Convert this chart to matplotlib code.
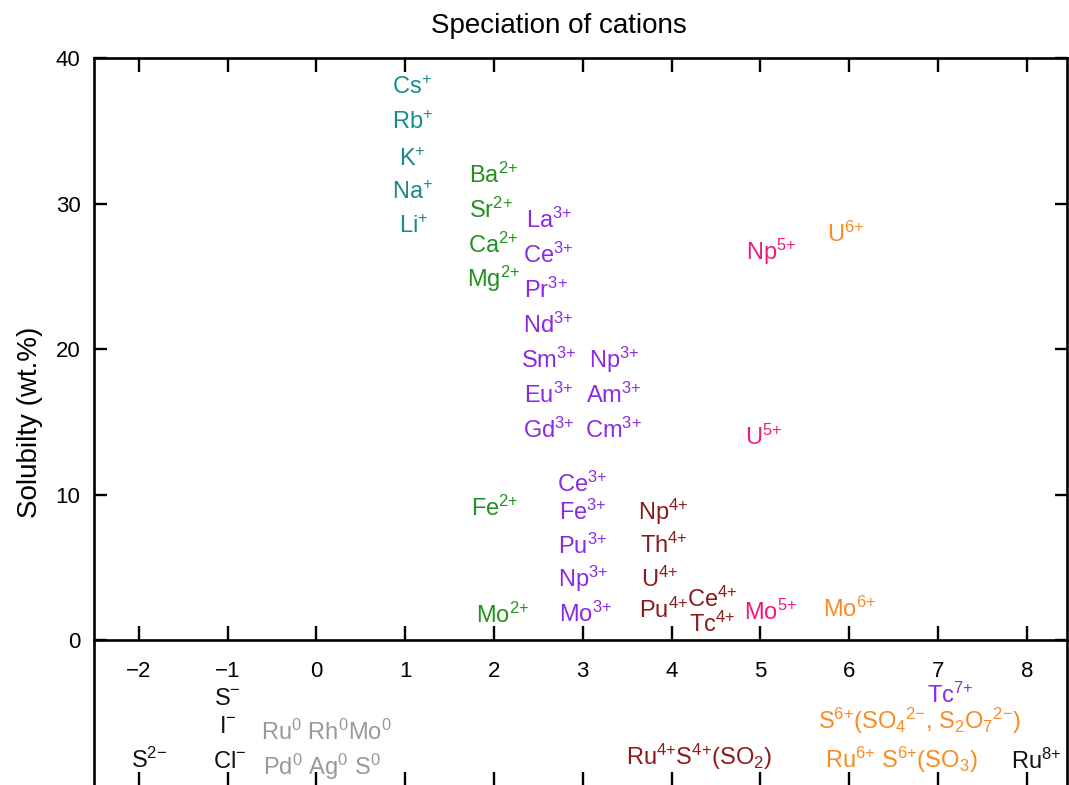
import matplotlib
matplotlib.use("Agg")
import matplotlib.pyplot as plt

plt.rcParams['font.family'] = ['Liberation Sans', 'DejaVu Sans']
plt.rcParams['mathtext.fontset'] = 'custom'
plt.rcParams['mathtext.rm'] = 'Liberation Sans'
plt.rcParams['mathtext.it'] = 'Liberation Sans:italic'
plt.rcParams['mathtext.bf'] = 'Liberation Sans:bold'
plt.rcParams['mathtext.sf'] = 'Liberation Sans'

# ---- data ----
labels = [
    # monovalent
    "Cs$^{+}$", "Rb$^{+}$", "K$^{+}$", "Na$^{+}$", "Li$^{+}$",
    # divalent
    "Ba$^{2{+}}$", "Sr$^{2{+}}$", "Ca$^{2{+}}$", "Mg$^{2{+}}$", "Fe$^{2{+}}$", "Mo$^{2{+}}$",
    # trivalent
    "La$^{3{+}}$", "Ce$^{3{+}}$", "Pr$^{3{+}}$", "Nd$^{3{+}}$", "Sm$^{3{+}}$", "Eu$^{3{+}}$",
    "Gd$^{3{+}}$", "Np$^{3{+}}$", "Am$^{3{+}}$", "Cm$^{3{+}}$",
    "Ce$^{3{+}}$", "Fe$^{3{+}}$", "Pu$^{3{+}}$", "Np$^{3{+}}$", "Mo$^{3{+}}$",
    # tetravalent
    "Np$^{4{+}}$", "Th$^{4{+}}$", "U$^{4{+}}$", "Pu$^{4{+}}$", "Ce$^{4{+}}$", "Tc$^{4{+}}$",
    "Ru$^{4{+}}$S$^{4{+}}$(SO$_{2}$)",
    # pentavalent
    "Np$^{5{+}}$", "U$^{5{+}}$", "Mo$^{5{+}}$",
    # hexavalent
    "U$^{6{+}}$", "Mo$^{6{+}}$",
    "S$^{6{+}}$(SO$_{4}{}^{2{-}}$, S$_{2}$O$_{7}{}^{2{-}}$)",
    "Ru$^{6{+}}$ S$^{6{+}}$(SO$_{3}$)",
    # heptavalent / octavalent
    "Tc$^{7{+}}$", "Ru$^{8{+}}$",
    # anions
    "S$^{-}$", "I$^{-}$", "Cl$^{-}$", "S$^{2{-}}$",
    # metals
    "Ru$^{0}$ Rh$^{0}$Mo$^{0}$", "Pd$^{0}$ Ag$^{0}$ S$^{0}$",
]

oxidation = [
    1.08, 1.08, 1.08, 1.08, 1.10,
    2.00, 1.97, 1.99, 1.99, 2.01, 2.10,
    2.62, 2.61, 2.59, 2.61, 2.62, 2.62, 2.62,
    3.35, 3.35, 3.35,
    2.99, 3.00, 3.00, 3.01, 3.03,
    3.91, 3.91, 3.87, 3.91, 4.46, 4.46,
    4.31,
    5.12, 5.04, 5.11,
    5.96, 6.00,
    6.79,
    6.59,
    7.14, 8.11,
    -1.00, -1.00, -0.98, -1.88,
    0.11, 0.06,
]

solubility = [
    37.5, 35.1, 32.6, 30.3, 27.95,
    31.4, 29.0, 26.6, 24.3, 8.54, 1.19,
    28.3, 25.9, 23.5, 21.1, 18.7, 16.3, 13.9,
    18.7, 16.3, 13.9,
    10.2, 8.27, 5.93, 3.67, 1.28,
    8.27, 6.0, 3.67, 1.53, 2.29, 0.58,
    -8.55,
    26.1, 13.4, 1.40,
    27.4, 1.6,
    -6.07,
    -8.76,
    -4.3, -8.83,
    -4.44, -6.35, -8.76, -8.76,
    -6.83, -9.23,
]

groups = (
    ["mono"] * 5 + ["di"] * 6 + ["tri"] * 15 + ["tetra"] * 7 + ["penta"] * 3
    + ["hexa"] * 4 + ["tri", "black"] + ["black"] * 4 + ["metal"] * 2
)

group_colors = {
    "mono": "#1a8b8b",
    "di": "#24901f",
    "tri": "#8a2be2",
    "tetra": "#8b1a1a",
    "penta": "#f0197d",
    "hexa": "#f98b20",
    "black": "#111111",
    "metal": "#999999",
}

xticks = [-2, -1, 0, 1, 2, 3, 4, 5, 6, 7, 8]
yticks = [0, 10, 20, 30, 40]

# ---- figure ----
W, H = 1069, 785
fig = plt.figure(figsize=(W / 100, H / 100), dpi=100)
left = 94.3 / W
right_px = 1066.5
top_px = 58
ylo, yhi = -10, 40
px_per_y = 14.56
height_px = (yhi - ylo) * px_per_y
ax = fig.add_axes([left, 1 - (top_px + height_px) / H, (right_px - 94.3) / W, height_px / H])

ax.set_xlim(-2.5, -2.5 + (right_px - 94.3) / 88.8)
ax.set_ylim(ylo, yhi)

lw = 1.9
for s in ax.spines.values():
    s.set_linewidth(lw)

ax.set_xticks(xticks)
ax.set_yticks(yticks)
ax.tick_params(axis='x', which='both', direction='in', length=10, width=1.7,
               top=True, bottom=True, labelbottom=False, labeltop=False)
ax.tick_params(axis='y', which='both', direction='in', length=9, width=1.7,
               left=True, right=True, labelleft=True, labelright=False,
               labelsize=16, pad=10)

# x axis drawn at solubility = 0
frac0 = (0 - ylo) / (yhi - ylo)
sec = ax.secondary_xaxis(frac0)
sec.set_xticks(xticks)
sec.spines['bottom'].set_linewidth(lw)
sec.tick_params(axis='x', direction='in', length=10, width=1.7, labelsize=16, pad=15)

for lab, x, y, g in zip(labels, oxidation, solubility, groups):
    ax.text(x, y, lab, color=group_colors[g], fontsize=17,
            ha='center', va='baseline')

ax.set_title("Speciation of cations", fontsize=20, x=0.478, pad=18)
ax.set_ylabel("Solubilty (wt.%)", fontsize=20)
ax.yaxis.set_label_coords(-0.053, 0.5)

fig.savefig("out.png", dpi=100)
